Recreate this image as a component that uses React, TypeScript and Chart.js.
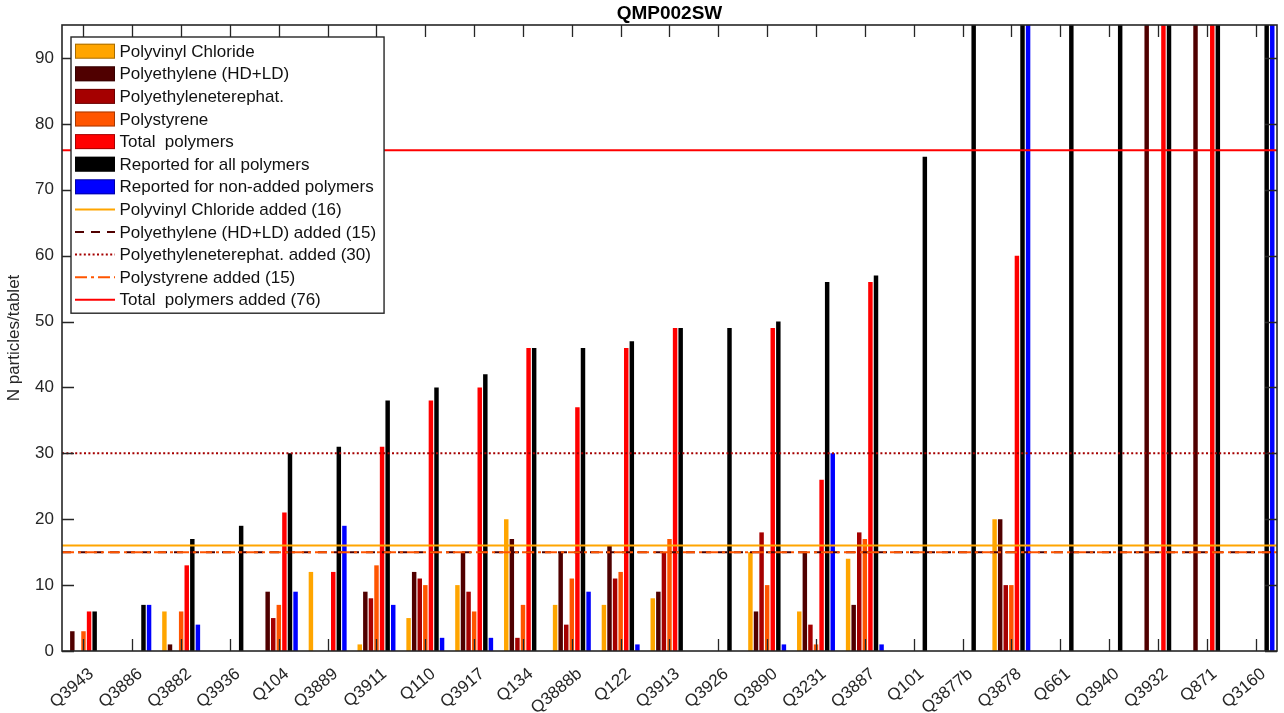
import React, { useEffect, useRef } from "react";
import { Chart, registerables } from "chart.js";

Chart.register(...registerables);

// ---------------- data ----------------
const CATEGORIES = [
  "Q3943", "Q3886", "Q3882", "Q3936", "Q104", "Q3889", "Q3911", "Q110", "Q3917",
  "Q134", "Q3888b", "Q122", "Q3913", "Q3926", "Q3890", "Q3231", "Q3887", "Q101",
  "Q3877b", "Q3878", "Q661", "Q3940", "Q3932", "Q871", "Q3160",
];

const PVC = [0, 0, 6, 0, 0, 12, 1, 5, 10, 20, 7, 7, 8, 0, 15, 6, 14, 0, 0, 20, 0, 0, 0, 0, 0];
const PE = [3, 0, 1, 0, 9, 0, 9, 12, 15, 17, 15, 16, 9, 0, 6, 15, 7, 0, 0, 20, 0, 0, 110, 105, 0];
const PET = [0, 0, 0, 0, 5, 0, 8, 11, 9, 2, 4, 11, 15, 0, 18, 4, 18, 0, 0, 10, 0, 0, 0, 0, 0];
const PS = [3, 0, 6, 0, 7, 0, 13, 10, 6, 7, 11, 12, 17, 0, 10, 1, 17, 0, 0, 10, 0, 0, 0, 0, 0];
const TOTAL = [6, 0, 13, 0, 21, 12, 31, 38, 40, 46, 37, 46, 49, 0, 49, 26, 56, 0, 0, 60, 0, 0, 125, 118, 0];
const REPORTED_ALL = [6, 7, 17, 19, 30, 31, 38, 40, 42, 46, 46, 47, 49, 49, 50, 56, 57, 75, 100, 110, 120, 130, 140, 150, 160];
const REPORTED_NON_ADDED = [0, 7, 4, 0, 9, 19, 7, 2, 2, 0, 9, 1, 0, 0, 1, 30, 1, 0, 0, 105, 0, 0, 0, 0, 140];

const BAR_SERIES_NAMES = [
  "Polyvinyl Chloride",
  "Polyethylene (HD+LD)",
  "Polyethyleneterephat.",
  "Polystyrene",
  "Total  polymers",
  "Reported for all polymers",
  "Reported for non-added polymers",
];

const ADDED_NAMES = [
  "Polyvinyl Chloride added (16)",
  "Polyethylene (HD+LD) added (15)",
  "Polyethyleneterephat. added (30)",
  "Polystyrene added (15)",
  "Total  polymers added (76)",
];
const ADDED_VALUES = [16, 15, 30, 15, 76];

const Y_TICKS = [0, 10, 20, 30, 40, 50, 60, 70, 80, 90];

// ---------------- styles ----------------
const FONT = "'Liberation Sans', Arial, Helvetica, sans-serif";
const AXIS_COLOR = "#262626";
const BAR_COLORS = ["#FFA500", "#500000", "#A50000", "#FF5500", "#FF0000", "#000000", "#0000FF"];
const LINE_STYLES = [
  { color: "#FFA500", dash: [] as number[], width: 2 },
  { color: "#500000", dash: [9, 7], width: 2 },
  { color: "#A50000", dash: [2, 2.4], width: 2 },
  { color: "#FF5500", dash: [12, 4, 3, 4], width: 2 },
  { color: "#FF0000", dash: [] as number[], width: 2 },
];

const SERIES = [PVC, PE, PET, PS, TOTAL, REPORTED_ALL, REPORTED_NON_ADDED];

const decorPlugin = {
  id: "decor",
  afterDatasetsDraw(chart: any) {
    const { ctx, chartArea: a, scales } = chart;
    const x = scales.x;
    const y = scales.y;
    ctx.save();
    // reference lines
    ADDED_VALUES.forEach((v, i) => {
      const st = LINE_STYLES[i];
      const py = y.getPixelForValue(v);
      ctx.beginPath();
      ctx.setLineDash(st.dash);
      ctx.strokeStyle = st.color;
      ctx.lineWidth = st.width;
      ctx.moveTo(a.left, py);
      ctx.lineTo(a.right, py);
      ctx.stroke();
    });
    ctx.setLineDash([]);
    // inward tick marks
    const TL = 12;
    ctx.strokeStyle = AXIS_COLOR;
    ctx.lineWidth = 1.3;
    ctx.beginPath();
    x.ticks.forEach((t: any) => {
      const px = Math.round(x.getPixelForValue(t.value)) + 0.5;
      ctx.moveTo(px, a.bottom);
      ctx.lineTo(px, a.bottom - TL);
      ctx.moveTo(px, a.top);
      ctx.lineTo(px, a.top + TL);
    });
    y.ticks.forEach((t: any) => {
      const py = Math.round(y.getPixelForValue(t.value)) + 0.5;
      ctx.moveTo(a.left, py);
      ctx.lineTo(a.left + TL, py);
      ctx.moveTo(a.right, py);
      ctx.lineTo(a.right - TL, py);
    });
    ctx.stroke();
    // box
    ctx.lineWidth = 1.6;
    ctx.strokeRect(a.left, a.top, a.right - a.left, a.bottom - a.top);
    ctx.restore();
  },
  afterDraw(chart: any) {
    const { ctx, chartArea: a } = chart;
    ctx.save();
    ctx.font = `17px ${FONT}`;
    const entries = [
      ...BAR_SERIES_NAMES.map((n, i) => ({ name: n, kind: "bar", i })),
      ...ADDED_NAMES.map((n, i) => ({ name: n, kind: "line", i })),
    ];
    const maxW = Math.max(...entries.map((e) => ctx.measureText(e.name).width));
    const lx = a.left + 9;
    const ly = a.top + 12;
    const rowH = 22.6;
    const textX = lx + 48.5;
    const w = 48.5 + maxW + 8;
    const h = entries.length * rowH + 5;
    ctx.fillStyle = "#ffffff";
    ctx.fillRect(lx, ly, w, h);
    ctx.strokeStyle = AXIS_COLOR;
    ctx.lineWidth = 1.4;
    ctx.strokeRect(lx, ly, w, h);
    entries.forEach((e, k) => {
      const cy = ly + 14.2 + k * rowH;
      if (e.kind === "bar") {
        ctx.fillStyle = BAR_COLORS[e.i];
        ctx.fillRect(lx + 4, cy - 7.5, 40, 15);
        ctx.strokeStyle = "rgba(0,0,0,0.35)";
        ctx.lineWidth = 1;
        ctx.strokeRect(lx + 4.5, cy - 7, 39, 14);
      } else {
        const st = LINE_STYLES[e.i];
        ctx.beginPath();
        ctx.setLineDash(st.dash);
        ctx.strokeStyle = st.color;
        ctx.lineWidth = st.width;
        ctx.moveTo(lx + 4, cy);
        ctx.lineTo(lx + 44, cy);
        ctx.stroke();
        ctx.setLineDash([]);
      }
      ctx.fillStyle = "#111111";
      ctx.textBaseline = "middle";
      ctx.textAlign = "left";
      ctx.fillText(e.name, textX, cy + 1);
    });
    ctx.restore();
  },
};

export default function App() {
  const ref = useRef<HTMLCanvasElement>(null);
  useEffect(() => {
    const canvas = ref.current;
    if (!canvas) return;
    const chart = new Chart(canvas, {
      type: "bar",
      data: {
        datasets: SERIES.map((vals, i) => ({
          label: BAR_SERIES_NAMES[i],
          data: vals.map((v, j) => ({ x: j + 1, y: v })),
          backgroundColor: BAR_COLORS[i],
          borderWidth: 0,
          categoryPercentage: 0.8,
          barPercentage: 0.8,
          clip: 0,
        })),
      },
      options: {
        responsive: false,
        maintainAspectRatio: false,
        animation: false,
        devicePixelRatio: 1,
        layout: { padding: { left: 0, right: 7, top: 0.2, bottom: 0 } },
        plugins: {
          legend: { display: false },
          tooltip: { enabled: false },
          title: {
            display: true,
            text: "QMP002SW",
            fullSize: false,
            color: "#000000",
            font: { family: FONT, size: 19, weight: "bold", lineHeight: 1.2 },
            padding: { top: 2, bottom: 0 },
          },
        },
        scales: {
          x: {
            type: "linear",
            min: 0.56,
            max: CATEGORIES.length + 0.44,
            offset: false,
            grid: { display: false, drawTicks: false },
            border: { display: false },
            afterBuildTicks: (scale: any) => {
              scale.ticks = CATEGORIES.map((_, i) => ({ value: i + 1 }));
            },
            afterFit: (scale: any) => {
              scale.height = 62;
            },
            ticks: {
              autoSkip: false,
              minRotation: 40,
              maxRotation: 40,
              padding: 13,
              labelOffset: 8,
              color: AXIS_COLOR,
              font: { family: FONT, size: 17 },
              callback: (v: any) => CATEGORIES[Math.round(v) - 1] ?? "",
            },
          },
          y: {
            min: 0,
            max: 95,
            grid: { display: false, drawTicks: false },
            border: { display: false },
            afterBuildTicks: (scale: any) => {
              scale.ticks = Y_TICKS.map((v) => ({ value: v }));
            },
            afterFit: (scale: any) => {
              scale.width = 62;
            },
            ticks: {
              padding: 8,
              color: AXIS_COLOR,
              font: { family: FONT, size: 17 },
              callback: (v: any) => String(v),
            },
            title: {
              display: true,
              text: "N particles/tablet",
              color: AXIS_COLOR,
              font: { family: FONT, size: 17 },
              padding: { top: 4, bottom: 0 },
            },
          },
        },
      },
      plugins: [decorPlugin],
    } as any);
    return () => chart.destroy();
  }, []);

  return (
    <div style={{ position: "absolute", left: 0, top: 0, width: 1284, height: 713, background: "#ffffff" }}>
      <canvas ref={ref} width={1284} height={713} style={{ display: "block", width: 1284, height: 713 }} />
    </div>
  );
}
